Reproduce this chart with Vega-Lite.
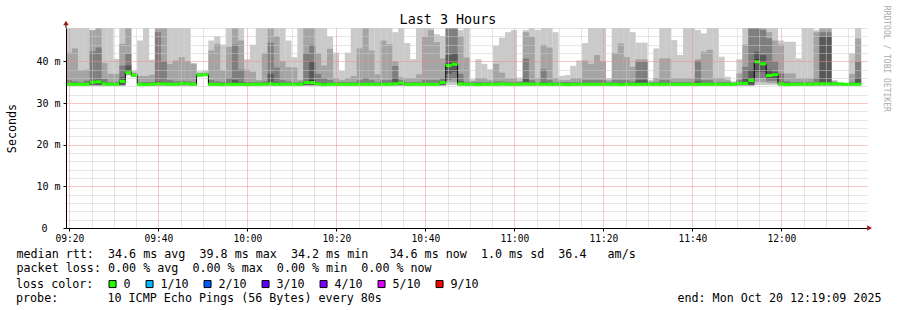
{
 "$schema": "https://vega.github.io/schema/vega-lite/v6.json",
 "width": 801, "height": 200,
 "autosize": {"type": "none"},
 "padding": {"left": 66, "top": 28, "right": 30, "bottom": 82},
 "background": "white",
 "title": {"text": "probe:\u00a0\u00a0\u00a0\u00a0\u00a0\u00a0\u00a010\u00a0ICMP\u00a0Echo\u00a0Pings\u00a0(56\u00a0Bytes)\u00a0every\u00a080s\u00a0\u00a0\u00a0\u00a0\u00a0\u00a0\u00a0\u00a0\u00a0\u00a0\u00a0\u00a0\u00a0\u00a0\u00a0\u00a0\u00a0\u00a0\u00a0\u00a0\u00a0\u00a0\u00a0\u00a0\u00a0\u00a0\u00a0\u00a0\u00a0\u00a0\u00a0\u00a0\u00a0\u00a0\u00a0\u00a0\u00a0\u00a0\u00a0\u00a0\u00a0\u00a0end:\u00a0Mon\u00a0Oct\u00a020\u00a012:19:09\u00a02025",
   "orient": "bottom", "anchor": "start", "frame": "group", "dx": -50, "offset": 2, "baseline": "top",
   "font": "DejaVu Sans Mono", "fontSize": 11.7, "fontWeight": "normal", "color": "#000"},
 "data": {"format": {"parse": {"t": "date:'%H:%M:%S'"}}, "values": [
{"t":"09:19:55","l":"0","m":34.5,"p":[34.1,34.2,34.3,34.35,34.45,34.6,34.8,35.5,42.1,49]},
{"t":"09:21:15","l":"0","m":34.5,"p":[34.1,34.2,34.3,34.35,34.45,34.6,34.7,35.2,43.1,49]},
{"t":"09:22:35","l":"0","m":34.5,"p":[34.1,34.2,34.3,34.35,34.45,34.6,34.7,35.0,37.9,49]},
{"t":"09:23:55","l":"0","m":34.5,"p":[34.1,34.2,34.3,34.35,34.45,34.6,34.8,35.4,38.0,49]},
{"t":"09:25:15","l":"0","m":35.0,"p":[34.1,34.2,34.3,34.35,34.95,35.2,35.4,42.4,47.5,47.5]},
{"t":"09:26:35","l":"0","m":35.1,"p":[34.1,34.2,34.3,34.35,35.05,35.2,35.6,43.3,49,49]},
{"t":"09:27:55","l":"0","m":34.6,"p":[34.1,34.2,34.3,34.35,34.55,34.7,35.0,35.8,39.6,49]},
{"t":"09:29:15","l":"0","m":34.5,"p":[34.1,34.2,34.3,34.35,34.45,34.6,34.8,35.0,37.0,49]},
{"t":"09:30:35","l":"0","m":34.5,"p":[34.1,34.2,34.3,34.35,34.45,34.6,34.7,35.0,37.0,40.6]},
{"t":"09:31:55","l":"0","m":35.2,"p":[34.1,34.2,34.3,34.35,35.15,35.5,36.2,39.0,44.2,49]},
{"t":"09:33:15","l":"0","m":37.3,"p":[36.6,36.8,37.0,37.1,37.25,37.8,39.0,41.8,49,49]},
{"t":"09:34:35","l":"0","m":36.6,"p":[36.2,36.3,36.4,36.5,36.55,36.8,36.9,37.0,37.3,37.8]},
{"t":"09:35:55","l":"0","m":34.5,"p":[34.1,34.2,34.3,34.35,34.45,34.6,34.7,35.0,36.5,45]},
{"t":"09:37:15","l":"0","m":34.4,"p":[34.1,34.2,34.3,34.35,34.35,34.6,34.7,35.0,36.5,49]},
{"t":"09:38:35","l":"0","m":34.5,"p":[34.1,34.2,34.3,34.35,34.45,34.6,34.7,35.0,36.8,40.4]},
{"t":"09:39:55","l":"0","m":34.6,"p":[34.1,34.2,34.3,34.35,34.55,34.7,35.2,47,48,49]},
{"t":"09:41:15","l":"0","m":34.6,"p":[34.1,34.2,34.3,34.35,34.55,34.7,35.0,40,49,49]},
{"t":"09:42:35","l":"0","m":34.5,"p":[34.1,34.2,34.3,34.35,34.45,34.6,34.8,35.5,39.4,49]},
{"t":"09:43:55","l":"0","m":34.5,"p":[34.1,34.2,34.3,34.35,34.45,34.6,34.8,35.2,40.2,49]},
{"t":"09:45:15","l":"0","m":34.7,"p":[34.1,34.2,34.3,34.35,34.65,34.8,34.9,35.3,41,49]},
{"t":"09:46:35","l":"0","m":34.6,"p":[34.1,34.2,34.3,34.35,34.55,34.7,34.8,35.2,40,49]},
{"t":"09:47:55","l":"0","m":34.5,"p":[34.1,34.2,34.3,34.35,34.45,34.6,34.7,35,39.4,39.6]},
{"t":"09:49:15","l":"0","m":36.7,"p":[36.3,36.4,36.5,36.6,36.65,36.8,36.9,37.0,37.2,37.6]},
{"t":"09:50:35","l":"0","m":36.8,"p":[36.4,36.5,36.6,36.7,36.75,36.9,37.0,37.1,37.3,37.8]},
{"t":"09:51:55","l":"0","m":34.5,"p":[34.1,34.2,34.3,34.35,34.45,34.6,34.8,35.5,42.6,45]},
{"t":"09:53:15","l":"0","m":34.5,"p":[34.1,34.2,34.3,34.35,34.45,34.6,34.7,35.2,44.2,46]},
{"t":"09:54:35","l":"0","m":34.4,"p":[34.1,34.2,34.3,34.35,34.35,34.6,34.7,35,37.8,44]},
{"t":"09:55:55","l":"0","m":34.5,"p":[34.1,34.2,34.3,34.35,34.45,34.6,34.9,36,43.5,49]},
{"t":"09:57:15","l":"0","m":34.5,"p":[34.1,34.2,34.3,34.35,34.45,34.7,35.5,44,49,49]},
{"t":"09:58:35","l":"0","m":34.5,"p":[34.1,34.2,34.3,34.35,34.45,34.6,35,38,45,49]},
{"t":"09:59:55","l":"0","m":34.4,"p":[34.1,34.2,34.3,34.35,34.35,34.6,34.7,35,38,40.5]},
{"t":"10:01:15","l":"0","m":34.5,"p":[34.1,34.2,34.3,34.35,34.45,34.6,34.7,35,37.5,44]},
{"t":"10:02:35","l":"0","m":34.5,"p":[34.1,34.2,34.3,34.35,34.45,34.6,34.7,35,35.5,49]},
{"t":"10:03:55","l":"0","m":34.5,"p":[34.1,34.2,34.3,34.35,34.45,34.6,34.8,35.2,42,49]},
{"t":"10:05:15","l":"0","m":34.6,"p":[34.1,34.2,34.3,34.35,34.55,34.8,37,44.5,49,49]},
{"t":"10:06:35","l":"0","m":34.5,"p":[34.1,34.2,34.3,34.35,34.45,34.7,35,38.5,46,49]},
{"t":"10:07:55","l":"0","m":34.5,"p":[34.1,34.2,34.3,34.35,34.45,34.6,34.8,35.5,40,49]},
{"t":"10:09:15","l":"0","m":34.5,"p":[34.1,34.2,34.3,34.35,34.45,34.6,34.8,35.2,38.6,45]},
{"t":"10:10:35","l":"0","m":34.5,"p":[34.1,34.2,34.3,34.35,34.45,34.6,34.7,35,38.5,41]},
{"t":"10:11:55","l":"0","m":34.5,"p":[34.1,34.2,34.3,34.35,34.45,34.6,34.7,35,35.5,49]},
{"t":"10:13:15","l":"0","m":34.9,"p":[34.1,34.2,34.3,34.35,34.85,35.0,35.3,42,49,49]},
{"t":"10:14:35","l":"0","m":34.9,"p":[34.1,34.2,34.3,34.35,34.85,35.5,40,44,49,49]},
{"t":"10:15:55","l":"0","m":34.6,"p":[34.1,34.2,34.3,34.35,34.55,34.8,35,37,42,49]},
{"t":"10:17:15","l":"0","m":34.4,"p":[34.1,34.2,34.3,34.35,34.35,34.6,34.8,36,39,49]},
{"t":"10:18:35","l":"0","m":34.5,"p":[34.1,34.2,34.3,34.35,34.45,34.6,34.8,35.5,43,46]},
{"t":"10:19:55","l":"0","m":34.5,"p":[34.1,34.2,34.3,34.35,34.45,34.6,34.7,35,36,42.1]},
{"t":"10:21:15","l":"0","m":34.5,"p":[34.1,34.2,34.3,34.35,34.45,34.6,34.7,35,35.5,37.7]},
{"t":"10:22:35","l":"0","m":34.5,"p":[34.1,34.2,34.3,34.35,34.45,34.6,34.7,35,36,42.1]},
{"t":"10:23:55","l":"0","m":34.5,"p":[34.1,34.2,34.3,34.35,34.45,34.6,34.7,35,36.5,49]},
{"t":"10:25:15","l":"0","m":34.5,"p":[34.1,34.2,34.3,34.35,34.45,34.6,34.8,35.5,43.1,49]},
{"t":"10:26:35","l":"0","m":34.5,"p":[34.1,34.2,34.3,34.35,34.45,34.6,34.8,36,49,49]},
{"t":"10:27:55","l":"0","m":34.5,"p":[34.1,34.2,34.3,34.35,34.45,34.6,34.8,35.5,42.6,49]},
{"t":"10:29:15","l":"0","m":34.5,"p":[34.1,34.2,34.3,34.35,34.45,34.6,34.7,35,36.9,49]},
{"t":"10:30:35","l":"0","m":34.5,"p":[34.1,34.2,34.3,34.35,34.45,34.6,34.8,35.5,45,49]},
{"t":"10:31:55","l":"0","m":34.5,"p":[34.1,34.2,34.3,34.35,34.45,34.6,34.8,35.5,44.1,49]},
{"t":"10:33:15","l":"0","m":34.6,"p":[34.1,34.2,34.3,34.35,34.55,34.7,36,38.9,40,47]},
{"t":"10:34:35","l":"0","m":34.8,"p":[34.1,34.2,34.3,34.35,34.75,34.9,35.1,35.5,36.2,49]},
{"t":"10:35:55","l":"0","m":34.5,"p":[34.1,34.2,34.3,34.35,34.45,34.6,34.7,35,36,44.4]},
{"t":"10:37:15","l":"0","m":34.5,"p":[34.1,34.2,34.3,34.35,34.45,34.6,34.7,35,36,40.5]},
{"t":"10:38:35","l":"0","m":34.5,"p":[34.1,34.2,34.3,34.35,34.45,34.6,34.7,35,36.9,49]},
{"t":"10:39:55","l":"0","m":34.5,"p":[34.1,34.2,34.3,34.35,34.45,34.6,34.8,35.5,45.9,49]},
{"t":"10:41:15","l":"0","m":34.5,"p":[34.1,34.2,34.3,34.35,34.45,34.6,34.8,35.5,47.5,49]},
{"t":"10:42:35","l":"0","m":34.5,"p":[34.1,34.2,34.3,34.35,34.45,34.6,34.8,35.5,44.6,46.5]},
{"t":"10:43:55","l":"0","m":34.9,"p":[34.1,34.2,34.3,34.35,34.85,35,35.2,36,40.7,46.1]},
{"t":"10:45:15","l":"0","m":39.0,"p":[34.3,35,35.5,37,38.8,39.2,41.5,48,49,49]},
{"t":"10:46:35","l":"0","m":39.3,"p":[34.3,35,35.8,37.5,39.1,39.5,42,49,49,49]},
{"t":"10:47:55","l":"0","m":34.6,"p":[34.1,34.2,34.3,34.35,34.55,34.8,35.2,37,46,47.5]},
{"t":"10:49:15","l":"0","m":34.5,"p":[34.1,34.2,34.3,34.35,34.45,34.6,34.7,35,40.9,49]},
{"t":"10:50:35","l":"0","m":34.5,"p":[34.1,34.2,34.3,34.35,34.45,34.6,34.7,35,35.3,35.7]},
{"t":"10:51:55","l":"0","m":34.4,"p":[34.1,34.2,34.3,34.35,34.35,34.6,34.7,35,36,40.5]},
{"t":"10:53:15","l":"0","m":34.5,"p":[34.1,34.2,34.3,34.35,34.45,34.6,34.7,35,36,39.4]},
{"t":"10:54:35","l":"0","m":34.5,"p":[34.1,34.2,34.3,34.35,34.45,34.6,34.7,35,35.5,38.1]},
{"t":"10:55:55","l":"0","m":34.5,"p":[34.1,34.2,34.3,34.35,34.45,34.6,34.7,35.2,39.4,43.7]},
{"t":"10:57:15","l":"0","m":34.6,"p":[34.1,34.2,34.3,34.35,34.55,34.7,34.8,35.2,37.3,45.7]},
{"t":"10:58:35","l":"0","m":34.5,"p":[34.1,34.2,34.3,34.35,34.45,34.6,34.7,35,36,47]},
{"t":"10:59:55","l":"0","m":34.5,"p":[34.1,34.2,34.3,34.35,34.45,34.6,34.7,35,36,47.5]},
{"t":"11:01:15","l":"0","m":34.5,"p":[34.1,34.2,34.3,34.35,34.45,34.6,34.7,35,35.3,36.1]},
{"t":"11:02:35","l":"0","m":34.6,"p":[34.1,34.2,34.3,34.35,34.55,34.8,36,40.7,47,47.5]},
{"t":"11:03:55","l":"0","m":34.5,"p":[34.1,34.2,34.3,34.35,34.45,34.6,34.8,35.5,45.9,49]},
{"t":"11:05:15","l":"0","m":34.6,"p":[34.1,34.2,34.3,34.35,34.55,34.7,34.8,35,36,47.5]},
{"t":"11:06:35","l":"0","m":34.5,"p":[34.1,34.2,34.3,34.35,34.45,34.6,35,38.1,44,49]},
{"t":"11:07:55","l":"0","m":34.5,"p":[34.1,34.2,34.3,34.35,34.45,34.6,34.8,35.5,43.3,49]},
{"t":"11:09:15","l":"0","m":34.5,"p":[34.1,34.2,34.3,34.35,34.45,34.6,34.7,35,36,47]},
{"t":"11:10:35","l":"0","m":34.5,"p":[34.1,34.2,34.3,34.35,34.45,34.6,34.7,35,35.5,36.5]},
{"t":"11:11:55","l":"0","m":34.4,"p":[34.1,34.2,34.3,34.35,34.35,34.6,34.7,35,35.5,36.7]},
{"t":"11:13:15","l":"0","m":34.5,"p":[34.1,34.2,34.3,34.35,34.45,34.6,34.7,35,36,38.9]},
{"t":"11:14:35","l":"0","m":34.5,"p":[34.1,34.2,34.3,34.35,34.45,34.6,34.7,35,36,40.2]},
{"t":"11:15:55","l":"0","m":34.5,"p":[34.1,34.2,34.3,34.35,34.45,34.6,34.8,35.5,40.2,44.4]},
{"t":"11:17:15","l":"0","m":34.5,"p":[34.1,34.2,34.3,34.35,34.45,34.6,34.8,35.5,39.4,49]},
{"t":"11:18:35","l":"0","m":34.5,"p":[34.1,34.2,34.3,34.35,34.45,34.6,34.8,35.5,41.5,49]},
{"t":"11:19:55","l":"0","m":34.5,"p":[34.1,34.2,34.3,34.35,34.45,34.6,34.8,35.5,40,49]},
{"t":"11:21:15","l":"0","m":34.5,"p":[34.1,34.2,34.3,34.35,34.45,34.6,34.7,35,35.5,36]},
{"t":"11:22:35","l":"0","m":34.5,"p":[34.1,34.2,34.3,34.35,34.45,34.6,34.8,35.5,42,49]},
{"t":"11:23:55","l":"0","m":34.4,"p":[34.1,34.2,34.3,34.35,34.35,34.6,34.8,35.5,44.3,49]},
{"t":"11:25:15","l":"0","m":34.5,"p":[34.1,34.2,34.3,34.35,34.45,34.6,34.8,35.5,41,48]},
{"t":"11:26:35","l":"0","m":34.5,"p":[34.1,34.2,34.3,34.35,34.45,34.6,34.7,35.2,38.7,47]},
{"t":"11:27:55","l":"0","m":34.5,"p":[34.1,34.2,34.3,34.35,34.45,34.6,35.5,39.9,40.5,44.5]},
{"t":"11:29:15","l":"0","m":34.5,"p":[34.1,34.2,34.3,34.35,34.45,34.6,35.5,39.9,40.5,44.5]},
{"t":"11:30:35","l":"0","m":34.5,"p":[34.1,34.2,34.3,34.35,34.45,34.6,34.7,34.9,35.2,35.5]},
{"t":"11:31:55","l":"0","m":34.5,"p":[34.1,34.2,34.3,34.35,34.45,34.6,34.7,35,36,43.1]},
{"t":"11:33:15","l":"0","m":34.5,"p":[34.1,34.2,34.3,34.35,34.45,34.6,34.8,35.5,40.7,48.2]},
{"t":"11:34:35","l":"0","m":34.5,"p":[34.1,34.2,34.3,34.35,34.45,34.6,34.8,35.5,40.7,48.2]},
{"t":"11:35:55","l":"0","m":34.5,"p":[34.1,34.2,34.3,34.35,34.45,34.6,34.7,35,36,45.1]},
{"t":"11:37:15","l":"0","m":34.5,"p":[34.1,34.2,34.3,34.35,34.45,34.6,34.7,35,36,41.5]},
{"t":"11:38:35","l":"0","m":34.5,"p":[34.1,34.2,34.3,34.35,34.45,34.6,34.7,35,36,49]},
{"t":"11:39:55","l":"0","m":34.5,"p":[34.1,34.2,34.3,34.35,34.45,34.6,34.7,35,36,49]},
{"t":"11:41:15","l":"0","m":34.5,"p":[34.1,34.2,34.3,34.35,34.45,34.6,35.2,40.1,40.5,47.5]},
{"t":"11:42:35","l":"0","m":34.5,"p":[34.1,34.2,34.3,34.35,34.45,34.6,34.8,35.5,42.3,46.7]},
{"t":"11:43:55","l":"0","m":34.5,"p":[34.1,34.2,34.3,34.35,34.45,34.6,34.8,35.5,42.8,49]},
{"t":"11:45:15","l":"0","m":34.5,"p":[34.1,34.2,34.3,34.35,34.45,34.6,34.7,35,36,49]},
{"t":"11:46:35","l":"0","m":34.5,"p":[34.1,34.2,34.3,34.35,34.45,34.6,34.7,35,36,41.1]},
{"t":"11:47:55","l":"0","m":34.5,"p":[34.1,34.2,34.3,34.35,34.45,34.6,34.7,35,35.5,36.3]},
{"t":"11:49:15","l":"0","m":34.5,"p":[34.1,34.2,34.3,34.35,34.45,34.6,34.7,34.8,35,35.2]},
{"t":"11:50:35","l":"0","m":34.7,"p":[34.1,34.2,34.3,34.35,34.65,34.8,35,35.5,37.1,40.5]},
{"t":"11:51:55","l":"0","m":34.7,"p":[34.1,34.2,34.3,34.35,34.65,35,36,38.7,44,49]},
{"t":"11:53:15","l":"0","m":35.4,"p":[34.1,34.2,34.3,34.35,35.35,35.6,38,48,49,49]},
{"t":"11:54:35","l":"0","m":39.9,"p":[34.3,35,36,37.5,39.8,40.5,42.3,49,49,49]},
{"t":"11:55:55","l":"0","m":39.4,"p":[34.3,35,36,37.5,39.3,39.6,41.5,47.5,48,49]},
{"t":"11:57:15","l":"0","m":36.6,"p":[34.3,34.8,35.3,35.8,36.5,37,38,45.5,47,49]},
{"t":"11:58:35","l":"0","m":36.8,"p":[34.3,34.8,35.3,35.8,36.7,37,37.5,40,45,49]},
{"t":"11:59:55","l":"0","m":34.6,"p":[34.1,34.2,34.3,34.35,34.55,34.7,35,37.1,44,45]},
{"t":"12:01:15","l":"0","m":34.4,"p":[34.1,34.2,34.3,34.35,34.35,34.6,34.8,35.2,37.1,44.7]},
{"t":"12:02:35","l":"0","m":34.5,"p":[34.1,34.2,34.3,34.35,34.45,34.6,34.7,35,37.1,44.7]},
{"t":"12:03:55","l":"0","m":34.5,"p":[34.1,34.2,34.3,34.35,34.45,34.6,34.7,35,36,40.7]},
{"t":"12:05:15","l":"0","m":34.5,"p":[34.1,34.2,34.3,34.35,34.45,34.6,34.7,35,36,49]},
{"t":"12:06:35","l":"0","m":34.5,"p":[34.1,34.2,34.3,34.35,34.45,34.6,34.7,35,36,49]},
{"t":"12:07:55","l":"0","m":34.6,"p":[34.1,34.2,34.3,34.35,34.55,34.7,34.8,36,47,47.5]},
{"t":"12:09:15","l":"0","m":34.6,"p":[34.1,34.2,34.3,34.35,34.55,34.7,45.9,47,48,48]},
{"t":"12:10:35","l":"0","m":34.6,"p":[34.1,34.2,34.3,34.35,34.55,34.7,45.9,47,48,48]},
{"t":"12:11:55","l":"0","m":34.6,"p":[34.1,34.2,34.3,34.35,34.55,34.7,34.8,35,35.2,35.5]},
{"t":"12:13:15","l":"0","m":34.6,"p":[34.1,34.2,34.3,34.35,34.55,34.65,34.7,34.75,34.8,34.85]},
{"t":"12:14:35","l":"0","m":34.5,"p":[34.1,34.2,34.3,34.35,34.45,34.6,34.65,34.7,34.75,34.8]},
{"t":"12:15:55","l":"0","m":34.5,"p":[34.1,34.2,34.3,34.35,34.45,34.6,34.7,35,37,41.9]},
{"t":"12:17:15","l":"0","m":34.5,"p":[34.1,34.2,34.3,34.35,34.45,34.8,36,39.9,45.5,49]}
 ]},
 "layer": [
  {"mark": {"type": "bar", "width": 6.1, "color": "#cacaca", "clip": true},
   "encoding": {
    "x": {"field": "t", "type": "temporal",
      "scale": {"padding": 0, "domain": [{"year":1900,"month":1,"date":1,"hours":9,"minutes":19,"seconds":15},{"year":1900,"month":1,"date":1,"hours":12,"minutes":19,"seconds":15}]},
      "axis": {
        "zindex": 1,
        "tickCount": 200,
        "values": [
         {"year":1900,"month":1,"date":1,"hours":9,"minutes":20},{"year":1900,"month":1,"date":1,"hours":9,"minutes":25},{"year":1900,"month":1,"date":1,"hours":9,"minutes":30},{"year":1900,"month":1,"date":1,"hours":9,"minutes":35},
         {"year":1900,"month":1,"date":1,"hours":9,"minutes":40},{"year":1900,"month":1,"date":1,"hours":9,"minutes":45},{"year":1900,"month":1,"date":1,"hours":9,"minutes":50},{"year":1900,"month":1,"date":1,"hours":9,"minutes":55},
         {"year":1900,"month":1,"date":1,"hours":10,"minutes":0},{"year":1900,"month":1,"date":1,"hours":10,"minutes":5},{"year":1900,"month":1,"date":1,"hours":10,"minutes":10},{"year":1900,"month":1,"date":1,"hours":10,"minutes":15},
         {"year":1900,"month":1,"date":1,"hours":10,"minutes":20},{"year":1900,"month":1,"date":1,"hours":10,"minutes":25},{"year":1900,"month":1,"date":1,"hours":10,"minutes":30},{"year":1900,"month":1,"date":1,"hours":10,"minutes":35},
         {"year":1900,"month":1,"date":1,"hours":10,"minutes":40},{"year":1900,"month":1,"date":1,"hours":10,"minutes":45},{"year":1900,"month":1,"date":1,"hours":10,"minutes":50},{"year":1900,"month":1,"date":1,"hours":10,"minutes":55},
         {"year":1900,"month":1,"date":1,"hours":11,"minutes":0},{"year":1900,"month":1,"date":1,"hours":11,"minutes":5},{"year":1900,"month":1,"date":1,"hours":11,"minutes":10},{"year":1900,"month":1,"date":1,"hours":11,"minutes":15},
         {"year":1900,"month":1,"date":1,"hours":11,"minutes":20},{"year":1900,"month":1,"date":1,"hours":11,"minutes":25},{"year":1900,"month":1,"date":1,"hours":11,"minutes":30},{"year":1900,"month":1,"date":1,"hours":11,"minutes":35},
         {"year":1900,"month":1,"date":1,"hours":11,"minutes":40},{"year":1900,"month":1,"date":1,"hours":11,"minutes":45},{"year":1900,"month":1,"date":1,"hours":11,"minutes":50},{"year":1900,"month":1,"date":1,"hours":11,"minutes":55},
         {"year":1900,"month":1,"date":1,"hours":12,"minutes":0},{"year":1900,"month":1,"date":1,"hours":12,"minutes":5},{"year":1900,"month":1,"date":1,"hours":12,"minutes":10},{"year":1900,"month":1,"date":1,"hours":12,"minutes":15}
        ],
        "labelExpr": "minutes(datum.value) % 20 === 0 ? timeFormat(datum.value, '%H:%M') : ''",
        "labelOverlap": false, "labelFlush": false,
        "labelFont": "DejaVu Sans Mono", "labelFontSize": 9.6, "labelColor": "#000", "labelPadding": 2,
        "tickSize": 3, "tickColor": "#000",
        "tickOpacity": {"condition": {"test": "minutes(datum.value) % 20 === 0", "value": 1}, "value": 0},
        "domainColor": "#000", "domainWidth": 1,
        "grid": true, "gridDash": [1, 1],
        "gridColor": {"condition": {"test": "minutes(datum.value) % 20 === 0", "value": "#f08c8c"}, "value": "#cccccc"},
        "title": ["median rtt:\u00a0\u00a034.6\u00a0ms\u00a0avg\u00a0\u00a039.8\u00a0ms\u00a0max\u00a0\u00a034.2\u00a0ms\u00a0min\u00a0\u00a0\u00a034.6\u00a0ms\u00a0now\u00a0\u00a01.0\u00a0ms\u00a0sd\u00a0\u00a036.4\u00a0\u00a0\u00a0am/s",
                  "packet loss:\u00a00.00\u00a0%\u00a0avg\u00a0\u00a00.00\u00a0%\u00a0max\u00a0\u00a00.00\u00a0%\u00a0min\u00a0\u00a00.00\u00a0%\u00a0now"],
        "titleFont": "DejaVu Sans Mono", "titleFontSize": 11.7, "titleFontWeight": "normal", "titleColor": "#000",
        "titleAlign": "left", "titleBaseline": "top", "titleLineHeight": 14, "titleX": -50, "titleY": 20
      }},
    "y": {"field": "p[0]", "type": "quantitative",
      "scale": {"domain": [0, 48], "nice": false, "zero": true},
      "axis": {
        "zindex": 1,
        "tickCount": 200,
        "values": [0,2,4,6,8,10,12,14,16,18,20,22,24,26,28,30,32,34,36,38,40,42,44,46,48],
        "labelExpr": "datum.value % 10 === 0 ? (datum.value === 0 ? '0' : datum.value + '\u00a0m') : ''",
        "labelFont": "DejaVu Sans Mono", "labelFontSize": 10, "labelColor": "#000",
        "labelPadding": {"condition": {"test": "datum.value === 0", "value": 16}, "value": 3},
        "labelOverlap": false, "labelFlush": false,
        "tickSize": 3, "tickColor": "#000",
        "tickOpacity": {"condition": {"test": "datum.value % 10 === 0", "value": 1}, "value": 0},
        "domainColor": "#000", "domainWidth": 1,
        "grid": true, "gridDash": [1, 1],
        "gridColor": {"condition": {"test": "datum.value % 10 === 0", "value": "#f08c8c"}, "value": "#cccccc"},
        "title": "Seconds", "titleFont": "DejaVu Sans Mono", "titleFontSize": 11.7, "titleFontWeight": "normal", "titleColor": "#000",
        "titleX": -55, "titleY": 100, "titleAlign": "center", "titleBaseline": "middle", "titleAngle": -90
      }},
    "y2": {"field": "p[9]"}
   }},
  {"mark": {"type": "bar", "width": 6.1, "color": "#a4a4a4", "clip": true},
   "encoding": {"x": {"field": "t", "type": "temporal"}, "y": {"field": "p[1]", "type": "quantitative"}, "y2": {"field": "p[8]"}}},
  {"mark": {"type": "bar", "width": 6.1, "color": "#7e7e7e", "clip": true},
   "encoding": {"x": {"field": "t", "type": "temporal"}, "y": {"field": "p[2]", "type": "quantitative"}, "y2": {"field": "p[7]"}}},
  {"mark": {"type": "bar", "width": 6.1, "color": "#585858", "clip": true},
   "encoding": {"x": {"field": "t", "type": "temporal"}, "y": {"field": "p[3]", "type": "quantitative"}, "y2": {"field": "p[6]"}}},
  {"mark": {"type": "bar", "width": 6.1, "color": "#323232", "clip": true},
   "encoding": {"x": {"field": "t", "type": "temporal"}, "y": {"field": "p[4]", "type": "quantitative"}, "y2": {"field": "p[5]"}}},
  {"mark": {"type": "line", "interpolate": "step", "color": "#000", "strokeWidth": 1},
   "encoding": {"x": {"field": "t", "type": "temporal"}, "y": {"field": "m", "type": "quantitative"}}},
  {"mark": {"type": "tick", "orient": "horizontal", "size": 6.1, "thickness": 3, "opacity": 1},
   "encoding": {"x": {"field": "t", "type": "temporal"}, "y": {"field": "m", "type": "quantitative"},
    "color": {"field": "l", "type": "nominal",
     "scale": {"domain": ["0","1/10","2/10","3/10","4/10","5/10","9/10"], "range": ["#26ff00","#00b8ff","#0059ff","#5e00ff","#7e00ff","#dd00ff","#ff0000"]},
     "legend": {"orient": "none", "legendX": -50, "legendY": 250, "direction": "horizontal", "padding": 0, "offset": 0,
       "title": "loss color:", "titleOrient": "left", "titleAnchor": "middle", "titleBaseline": "middle", "titlePadding": 12.7,
       "titleFont": "DejaVu Sans Mono", "titleFontSize": 11.7, "titleFontWeight": "normal", "titleColor": "#000",
       "symbolType": "square", "symbolSize": 49, "symbolStrokeColor": "#000", "symbolStrokeWidth": 1, "symbolOpacity": 1,
       "labelFont": "DejaVu Sans Mono", "labelFontSize": 11.7, "labelColor": "#000", "labelOffset": 5, "columnPadding": 13}}}},
  {"data": {"values": [{}]},
   "mark": {"type": "rule", "color": "#000", "strokeWidth": 1},
   "encoding": {"x": {"datum": {"year":1900,"month":1,"date":1,"hours":9,"minutes":19,"seconds":15}, "type": "temporal"}, "y": {"datum": 48, "type": "quantitative"}, "y2": {"datum": 49.2}}},
  {"data": {"values": [{}]},
   "mark": {"type": "rule", "color": "#000", "strokeWidth": 1},
   "encoding": {"x": {"datum": {"year":1900,"month":1,"date":1,"hours":12,"minutes":19,"seconds":15}, "type": "temporal"}, "x2": {"datum": {"year":1900,"month":1,"date":1,"hours":12,"minutes":19,"seconds":50}}, "y": {"datum": 0, "type": "quantitative"}}},
  {"data": {"values": [{}]},
   "mark": {"type": "point", "shape": "triangle-up", "filled": true, "size": 30, "color": "#a01818", "opacity": 1},
   "encoding": {"x": {"datum": {"year":1900,"month":1,"date":1,"hours":9,"minutes":19,"seconds":15}, "type": "temporal"}, "y": {"datum": 49.2, "type": "quantitative"}}},
  {"data": {"values": [{}]},
   "mark": {"type": "point", "shape": "triangle-right", "filled": true, "size": 30, "color": "#a01818", "opacity": 1},
   "encoding": {"x": {"datum": {"year":1900,"month":1,"date":1,"hours":12,"minutes":19,"seconds":50}, "type": "temporal"}, "y": {"datum": 0, "type": "quantitative"}}},
  {"data": {"values": [{"heading": "Last 3 Hours"}]},
   "mark": {"type": "text", "font": "DejaVu Sans Mono", "fontSize": 13.4, "color": "#000", "align": "center", "baseline": "middle"},
   "encoding": {"text": {"field": "heading"}, "x": {"datum": {"year":1900,"month":1,"date":1,"hours":10,"minutes":45,"seconds":5}, "type": "temporal"}, "y": {"datum": 49.9, "type": "quantitative"}}},
  {"data": {"values": [{"credit": "RRDTOOL / TOBI OETIKER"}]},
   "mark": {"type": "text", "angle": 90, "font": "DejaVu Sans Mono", "fontSize": 8, "color": "#aaaaaa", "align": "center", "baseline": "middle"},
   "encoding": {"text": {"field": "credit"}, "x": {"datum": {"year":1900,"month":1,"date":1,"hours":12,"minutes":23,"seconds":31}, "type": "temporal"}, "y": {"datum": 40.6, "type": "quantitative"}}}
 ],
 "config": {"view": {"stroke": null}}
}
